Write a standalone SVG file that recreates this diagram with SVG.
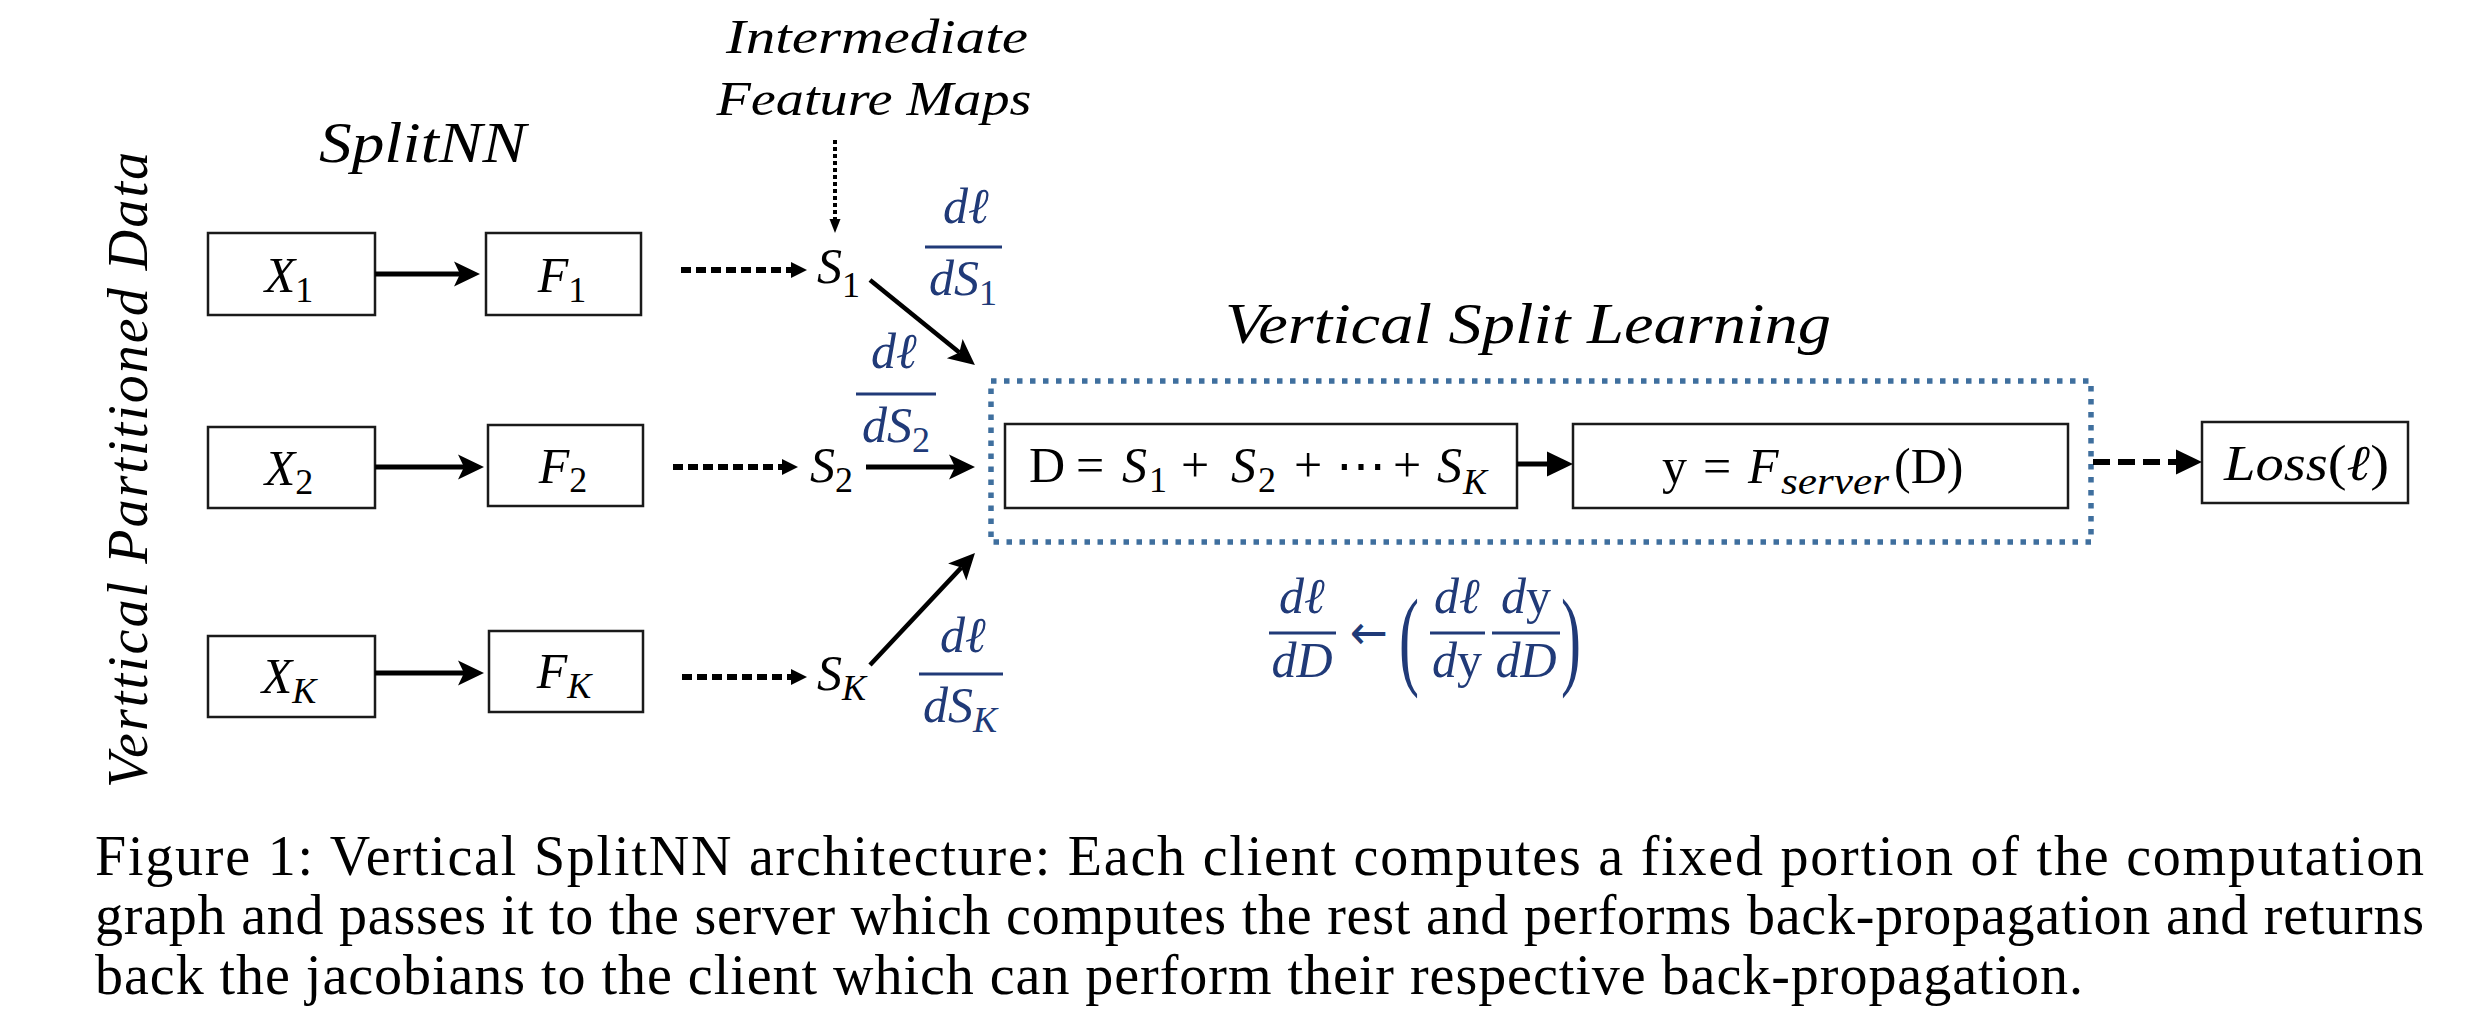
<svg xmlns="http://www.w3.org/2000/svg" width="2492" height="1027" viewBox="0 0 2492 1027">
<style>
.box{fill:#fff;stroke:#1a1a1a;stroke-width:2.5}
.m{font-family:"Liberation Serif","DejaVu Serif",serif;font-size:50px;fill:#000}
.i{font-style:italic}
.sub{font-size:36px}
.bl{fill:#203A78}
.g{font-size:50px}
.lbl{font-family:"Liberation Serif","DejaVu Serif",serif;font-style:italic;fill:#000}
.cap{font-family:"Liberation Serif","Times New Roman",serif;font-size:56px;fill:#000}
.solid{stroke:#000;stroke-width:5;fill:none}
.dash{stroke:#000;stroke-width:6;fill:none;stroke-dasharray:10 5}
.frac{stroke:#203A78;stroke-width:3}
</style>
<defs>
<marker id="barb" markerUnits="userSpaceOnUse" viewBox="-8 -15 30 30" markerWidth="30" markerHeight="30" refX="0" refY="0" orient="auto">
<path d="M20,0 L-6,-12.5 L0,0 L-6,12.5 Z" fill="#000"/>
</marker>
<marker id="tri" markerUnits="userSpaceOnUse" viewBox="0 -9 18 18" markerWidth="18" markerHeight="18" refX="0" refY="0" orient="auto">
<path d="M0,-8 L16,0 L0,8 Z" fill="#000"/>
</marker>
<marker id="tribig" markerUnits="userSpaceOnUse" viewBox="0 -14 28 28" markerWidth="28" markerHeight="28" refX="0" refY="0" orient="auto">
<path d="M0,-12.5 L26,0 L0,12.5 Z" fill="#000"/>
</marker>
<marker id="trismall" markerUnits="userSpaceOnUse" viewBox="0 -7 16 14" markerWidth="16" markerHeight="14" refX="0" refY="0" orient="auto">
<path d="M0,-5.5 L14,0 L0,5.5 Z" fill="#000"/>
</marker>
</defs>
<rect width="2492" height="1027" fill="#fff"/>

<!-- labels -->
<text class="lbl" x="877" y="53" font-size="48" text-anchor="middle" textLength="302" lengthAdjust="spacingAndGlyphs">Intermediate</text>
<text class="lbl" x="874" y="115" font-size="48" text-anchor="middle" textLength="315" lengthAdjust="spacingAndGlyphs">Feature Maps</text>
<text class="lbl" x="319" y="162" font-size="58" textLength="207" lengthAdjust="spacingAndGlyphs">SplitNN</text>
<text class="lbl" x="1225" y="343" font-size="58" textLength="606" lengthAdjust="spacingAndGlyphs">Vertical Split Learning</text>
<text class="lbl" font-size="56" transform="translate(147,788) rotate(-90)" textLength="636" lengthAdjust="spacing">Verttical Partitioned Data</text>

<!-- blue dotted server container -->
<g id="server-group">
<rect x="991" y="381" width="1100" height="161" fill="none" stroke="#3F6F9E" stroke-width="5.5" stroke-dasharray="5.5 7.5"/>
</g>

<!-- client nodes -->
<g id="X1"><rect class="box" x="208" y="233" width="167" height="82"/><text class="m i" x="289" y="292" text-anchor="middle">X<tspan class="sub" font-style="normal" dy="10">1</tspan></text></g>
<g id="F1"><rect class="box" x="486" y="233" width="155" height="82"/><text class="m i" x="562" y="292" text-anchor="middle">F<tspan class="sub" font-style="normal" dy="10">1</tspan></text></g>
<g id="X2"><rect class="box" x="208" y="427" width="167" height="81"/><text class="m i" x="289" y="485" text-anchor="middle">X<tspan class="sub" font-style="normal" dy="9">2</tspan></text></g>
<g id="F2"><rect class="box" x="488" y="425" width="155" height="81"/><text class="m i" x="563" y="483" text-anchor="middle">F<tspan class="sub" font-style="normal" dy="9">2</tspan></text></g>
<g id="XK"><rect class="box" x="208" y="636" width="167" height="81"/><text class="m i" x="289" y="693" text-anchor="middle">X<tspan class="sub" dy="10">K</tspan></text></g>
<g id="FK"><rect class="box" x="489" y="631" width="154" height="81"/><text class="m i" x="564" y="688" text-anchor="middle">F<tspan class="sub" dy="10">K</tspan></text></g>

<!-- feature maps -->
<g id="S1"><text class="m i" x="817" y="283">S<tspan class="sub" font-style="normal" dy="14">1</tspan></text></g>
<g id="S2"><text class="m i" x="810" y="482">S<tspan class="sub" font-style="normal" dy="10">2</tspan></text></g>
<g id="SK"><text class="m i" x="817" y="690">S<tspan class="sub" dy="10">K</tspan></text></g>

<!-- server nodes -->
<g id="D">
<rect class="box" x="1005" y="424" width="512" height="84"/>
<text class="m" y="482"><tspan x="1029">D</tspan><tspan x="1076">=</tspan><tspan x="1122" class="i">S</tspan><tspan x="1149" y="492" class="sub">1</tspan><tspan x="1181" y="482">+</tspan><tspan x="1231" class="i">S</tspan><tspan x="1258" y="492" class="sub">2</tspan><tspan x="1294" y="482">+</tspan><tspan x="1336">⋯</tspan><tspan x="1393">+</tspan><tspan x="1437" class="i">S</tspan><tspan x="1463" y="494" class="sub i">K</tspan></text>
</g>
<g id="Y">
<rect class="box" x="1573" y="424" width="495" height="84"/>
<text class="m" y="483"><tspan x="1662">y</tspan><tspan x="1703">=</tspan><tspan x="1748" class="i">F</tspan><tspan x="1781" y="494" class="i" font-size="38" textLength="108" lengthAdjust="spacingAndGlyphs">server</tspan><tspan x="1894" y="483">(D)</tspan></text>
</g>
<g id="Loss">
<rect class="box" x="2202" y="422" width="206" height="81"/>
<text class="m" x="2224" y="480" textLength="165" lengthAdjust="spacingAndGlyphs"><tspan class="i">Loss</tspan>(<tspan class="i">ℓ</tspan>)</text>
</g>

<!-- gradient labels -->
<g id="grad-S1">
<text class="m i bl" x="966" y="223" text-anchor="middle">dℓ</text>
<line class="frac" x1="925" y1="247" x2="1002" y2="247"/>
<text class="m i bl" x="963" y="295" text-anchor="middle">dS<tspan class="sub" font-style="normal" dy="10">1</tspan></text>
</g>
<g id="grad-S2">
<text class="m i bl" x="894" y="368" text-anchor="middle">dℓ</text>
<line class="frac" x1="856" y1="394" x2="936" y2="394"/>
<text class="m i bl" x="896" y="442" text-anchor="middle">dS<tspan class="sub" font-style="normal" dy="10">2</tspan></text>
</g>
<g id="grad-SK">
<text class="m i bl" x="963" y="652" text-anchor="middle">dℓ</text>
<line class="frac" x1="919" y1="674" x2="1003" y2="674"/>
<text class="m i bl" x="960" y="722" text-anchor="middle">dS<tspan class="sub" dy="10">K</tspan></text>
</g>
<g id="grad-D">
<text class="m i bl g" x="1302" y="613" text-anchor="middle">dℓ</text>
<line class="frac" x1="1269" y1="633" x2="1336" y2="633"/>
<text class="m i bl g" x="1302" y="677" text-anchor="middle">dD</text>
<text class="bl" x="1369" y="649" text-anchor="middle" font-family="DejaVu Sans, sans-serif" font-size="48" textLength="38" lengthAdjust="spacingAndGlyphs">←</text>
<text class="m bl" transform="translate(1399,675) scale(1,1.85)" style="font-size:60px">(</text>
<text class="m i bl g" x="1457" y="613" text-anchor="middle">dℓ</text>
<line class="frac" x1="1430" y1="633" x2="1485" y2="633"/>
<text class="m i bl g" x="1457" y="677" text-anchor="middle">d<tspan font-style="normal">y</tspan></text>
<text class="m i bl g" x="1526" y="613" text-anchor="middle">d<tspan font-style="normal">y</tspan></text>
<line class="frac" x1="1492" y1="633" x2="1560" y2="633"/>
<text class="m i bl g" x="1526" y="677" text-anchor="middle">dD</text>
<text class="m bl" transform="translate(1561,675) scale(1,1.85)" style="font-size:60px">)</text>
</g>

<!-- connectors -->
<g id="connectors">
<line class="solid" x1="375" y1="274" x2="460" y2="274" marker-end="url(#barb)"/>
<line class="solid" x1="375" y1="467" x2="464" y2="467" marker-end="url(#barb)"/>
<line class="solid" x1="375" y1="673" x2="464" y2="673" marker-end="url(#barb)"/>
<line class="dash" x1="681" y1="270" x2="791" y2="270" marker-end="url(#tri)"/>
<line class="dash" x1="673" y1="467" x2="782" y2="467" marker-end="url(#tri)"/>
<line class="dash" x1="682" y1="677" x2="791" y2="677" marker-end="url(#tri)"/>
<line x1="835" y1="140" x2="835" y2="219" stroke="#000" stroke-width="4" stroke-dasharray="4 3" marker-end="url(#trismall)"/>
<line x1="870" y1="280" x2="959.4" y2="352.4" stroke="#000" stroke-width="4.5" marker-end="url(#barb)"/>
<line class="solid" x1="866" y1="467" x2="955" y2="467" marker-end="url(#barb)"/>
<line x1="870" y1="665" x2="961.3" y2="567.6" stroke="#000" stroke-width="4.5" marker-end="url(#barb)"/>
<line class="solid" x1="1517" y1="464" x2="1547" y2="464" marker-end="url(#tribig)"/>
<line x1="2093" y1="462" x2="2176" y2="462" stroke="#000" stroke-width="6" stroke-dasharray="17 8" marker-end="url(#tribig)"/>
</g>

<!-- caption -->
<text class="cap" x="95" y="875" textLength="2329" lengthAdjust="spacing">Figure 1: Vertical SplitNN architecture: Each client computes a fixed portion of the computation</text>
<text class="cap" x="95" y="934" textLength="2329" lengthAdjust="spacing">graph and passes it to the server which computes the rest and performs back-propagation and returns</text>
<text class="cap" x="95" y="994" textLength="1988" lengthAdjust="spacing">back the jacobians to the client which can perform their respective back-propagation.</text>
</svg>
